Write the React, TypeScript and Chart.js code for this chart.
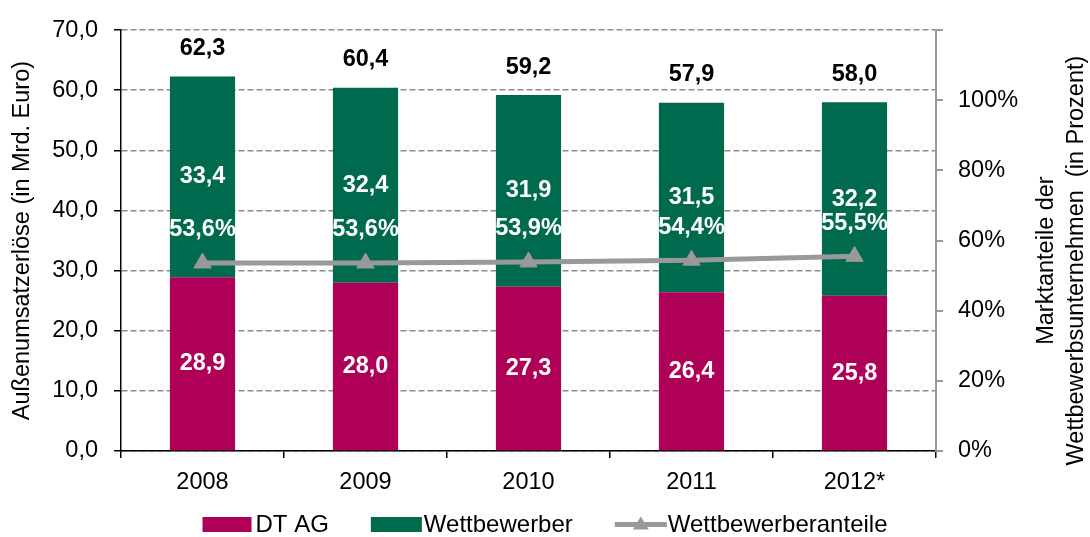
import React, { useEffect, useRef } from 'react';
import { Chart, registerables } from 'chart.js';

Chart.register(...registerables);

// ---------- data ----------
const years = ['2008', '2009', '2010', '2011', '2012*'];
const dtAg = [28.9, 28.0, 27.3, 26.4, 25.8];
const wettbewerber = [33.4, 32.4, 31.9, 31.5, 32.2];
const totals = [62.3, 60.4, 59.2, 57.9, 58.0];
const anteile = [53.6, 53.6, 53.9, 54.4, 55.5];
const leftTickLabels = ['0,0', '10,0', '20,0', '30,0', '40,0', '50,0', '60,0', '70,0'];
const rightTickLabels = ['0%', '20%', '40%', '60%', '80%', '100%', ''];
const seriesNames = ['DT AG', 'Wettbewerber', 'Wettbewerberanteile'];
const leftTitle = 'Außenumsatzerlöse (in Mrd. Euro)';
const rightTitle = ['Marktanteile der', 'Wettbewerbsunternehmen  (in Prozent)'];

// ---------- style ----------
const FONT = '"Liberation Sans", Arial, sans-serif';
const MAGENTA = '#AF0057';
const GREEN = '#006A4E';
const GRAY = '#999999';
const GRID = '#8c8c8c';
const FS = 23.5;

const fmt = (v: number) => v.toFixed(1).replace('.', ',');

const labelPlugin = {
  id: 'valueLabels',
  afterDatasetsDraw(chart: any) {
    const ctx = chart.ctx;
    const m0 = chart.getDatasetMeta(0);
    const m1 = chart.getDatasetMeta(1);
    const m2 = chart.getDatasetMeta(2);
    ctx.save();
    ctx.textAlign = 'center';
    ctx.textBaseline = 'middle';
    ctx.font = `bold ${FS}px ${FONT}`;
    m0.data.forEach((bar: any, i: number) => {
      const p = bar.getProps(['x', 'y', 'base'], true);
      ctx.fillStyle = '#ffffff';
      ctx.fillText(fmt(dtAg[i]), p.x, (p.y + p.base) / 2);
    });
    m1.data.forEach((bar: any, i: number) => {
      const p = bar.getProps(['x', 'y', 'base'], true);
      ctx.fillStyle = '#ffffff';
      ctx.fillText(fmt(wettbewerber[i]), p.x, (p.y + p.base) / 2);
      ctx.fillStyle = '#000000';
      ctx.fillText(fmt(totals[i]), p.x, p.y - 28);
    });
    m2.data.forEach((pt: any, i: number) => {
      const p = pt.getProps(['x', 'y'], true);
      ctx.fillStyle = '#ffffff';
      ctx.fillText(fmt(anteile[i]) + '%', p.x, p.y - 33);
    });
    ctx.restore();
  },
  afterDraw(chart: any) {
    const ctx = chart.ctx;
    const area = chart.chartArea;
    ctx.save();
    // right axis title
    ctx.fillStyle = '#000000';
    ctx.font = `${FS}px ${FONT}`;
    ctx.textAlign = 'center';
    ctx.textBaseline = 'middle';
    const cy = (area.top + area.bottom) / 2 + 20;
    rightTitle.forEach((t, k) => {
      ctx.save();
      ctx.translate(area.right + 111 + k * 30, cy);
      ctx.rotate(-Math.PI / 2);
      ctx.fillText(t, 0, 0);
      ctx.restore();
    });
    // legend
    ctx.font = `24px ${FONT}`;
    ctx.textAlign = 'left';
    const symW = [49, 51, 52];
    const gapT = [4, 2, 1];
    const gapI = 42;
    const widths = seriesNames.map((n) => ctx.measureText(n).width);
    let total = 0;
    seriesNames.forEach((_, k) => {
      total += symW[k] + gapT[k] + widths[k];
      if (k < seriesNames.length - 1) total += gapI;
    });
    let x = chart.width / 2 - total / 2;
    const ly = 524.5;
    const colors = [MAGENTA, GREEN, GRAY];
    seriesNames.forEach((n, k) => {
      if (k < 2) {
        ctx.fillStyle = colors[k];
        ctx.fillRect(x, ly - 7.5, symW[k], 15);
      } else {
        ctx.strokeStyle = GRAY;
        ctx.lineWidth = 5;
        ctx.beginPath();
        ctx.moveTo(x, ly);
        ctx.lineTo(x + symW[k], ly);
        ctx.stroke();
        ctx.fillStyle = GRAY;
        const cx = x + symW[k] / 2;
        ctx.beginPath();
        ctx.moveTo(cx, ly - 8);
        ctx.lineTo(cx + 8, ly + 5);
        ctx.lineTo(cx - 8, ly + 5);
        ctx.closePath();
        ctx.fill();
      }
      x += symW[k] + gapT[k];
      ctx.fillStyle = '#000000';
      ctx.fillText(n, x, ly + 1);
      x += widths[k] + gapI;
    });
    ctx.restore();
  },
};

export default function App() {
  const ref = useRef<HTMLCanvasElement | null>(null);
  useEffect(() => {
    if (!ref.current) return;
    const chart = new Chart(ref.current, {
      type: 'bar',
      data: {
        labels: years,
        datasets: [
          {
            label: seriesNames[0],
            data: dtAg,
            backgroundColor: MAGENTA,
            borderWidth: 0,
            barPercentage: 0.4,
            categoryPercentage: 1,
            yAxisID: 'y',
            order: 1,
          } as any,
          {
            label: seriesNames[1],
            data: wettbewerber,
            backgroundColor: GREEN,
            borderWidth: 0,
            barPercentage: 0.4,
            categoryPercentage: 1,
            yAxisID: 'y',
            order: 1,
          },
          {
            type: 'line',
            label: seriesNames[2],
            data: anteile,
            yAxisID: 'y1',
            borderColor: GRAY,
            backgroundColor: GRAY,
            borderWidth: 5,
            pointStyle: 'triangle',
            pointRadius: 10,
            pointBackgroundColor: GRAY,
            pointBorderColor: GRAY,
            pointBorderWidth: 1,
            tension: 0,
            order: 0,
          },
        ],
      },
      options: {
        responsive: false,
        animation: false,
        devicePixelRatio: 1,
        layout: { padding: { top: 21, left: 0, right: 0, bottom: 0 } },
        plugins: {
          legend: { display: false },
          tooltip: { enabled: false },
        },
        scales: {
          x: {
            stacked: true,
            grid: {
              offset: true,
              drawOnChartArea: false,
              tickLength: 7,
              tickColor: '#000000',
              lineWidth: 1.5,
            },
            border: { color: '#000000', width: 1.5 },
            ticks: { padding: 10, color: '#000000', font: { family: FONT, size: FS } },
            afterFit: (s: any) => {
              s.height = 86;
            },
          },
          y: {
            stacked: true,
            position: 'left',
            min: 0,
            max: 70,
            ticks: {
              stepSize: 10,
              padding: 16,
              color: '#000000',
              font: { family: FONT, size: FS },
              callback: (_v: any, i: number) => leftTickLabels[i],
            },
            grid: {
              color: GRID,
              lineWidth: 1.5,
              tickLength: 7,
              tickColor: '#000000',
              tickWidth: 1.5,
            },
            border: { color: '#000000', width: 1.5, dash: [6, 3] },
            title: {
              display: true,
              text: leftTitle,
              color: '#000000',
              font: { family: FONT, size: FS },
              padding: { top: 8, bottom: 0 },
            },
            afterFit: (s: any) => {
              s.width = 121;
            },
          },
          y1: {
            position: 'right',
            min: 0,
            max: 120,
            ticks: {
              stepSize: 20,
              padding: 15,
              color: '#000000',
              font: { family: FONT, size: FS },
              callback: (_v: any, i: number) => rightTickLabels[i],
            },
            grid: {
              drawOnChartArea: false,
              tickLength: 7,
              tickColor: GRAY,
              lineWidth: 2,
            },
            border: { color: GRAY, width: 2 },
            afterFit: (s: any) => {
              s.width = 154;
            },
          },
        },
      },
      plugins: [labelPlugin],
    } as any);
    return () => chart.destroy();
  }, []);
  return (
    <div style={{ position: 'fixed', left: 0, top: 0, width: 1090, height: 537, background: '#ffffff' }}>
      <canvas ref={ref} width={1090} height={537} style={{ width: 1090, height: 537, display: 'block' }} />
    </div>
  );
}
